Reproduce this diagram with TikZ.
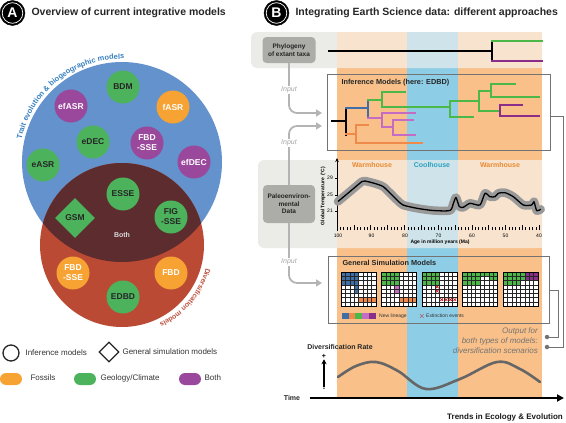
\documentclass[tikz,border=0pt]{standalone}
\usepackage{fontspec}
\setmainfont{Liberation Sans}
\usetikzlibrary{shapes.geometric,arrows.meta}

\definecolor{traitblue}{RGB}{99,146,205}
\definecolor{traittext}{RGB}{56,128,192}
\definecolor{divred}{RGB}{186,74,52}
\definecolor{divtext}{RGB}{190,80,60}
\definecolor{overlap}{RGB}{92,44,46}
\definecolor{geogreen}{RGB}{77,178,92}
\definecolor{fossorange}{RGB}{246,163,52}
\definecolor{bothpurple}{RGB}{153,72,156}
\definecolor{bandorange}{RGB}{249,192,137}
\definecolor{bandblue}{RGB}{141,206,230}
\definecolor{paleorange}{RGB}{248,228,206}
\definecolor{paleblue}{RGB}{207,228,234}
\definecolor{rowgray}{RGB}{235,235,232}
\definecolor{nodegray}{RGB}{172,172,168}
\definecolor{inputgray}{RGB}{180,180,180}
\definecolor{treeblue}{RGB}{63,111,166}
\definecolor{treegreen}{RGB}{76,184,72}
\definecolor{treepink}{RGB}{196,108,196}
\definecolor{treepurple}{RGB}{138,46,138}
\definecolor{treeorange}{RGB}{240,138,75}
\definecolor{warmtext}{RGB}{232,137,47}
\definecolor{cooltext}{RGB}{42,160,192}

\tikzset{
	model/.style={circle, minimum size=33pt, inner sep=0pt, align=center, font=\bfseries\fontsize{8.5}{10}\selectfont},
	geo/.style={model, fill=geogreen, text=black!85},
	foss/.style={model, fill=fossorange, text=white},
	purp/.style={model, fill=bothpurple, text=white},
	badge/.style={circle, fill=black, draw=black, text=white, minimum size=25pt, inner sep=0pt, font=\bfseries\fontsize{14}{14}\selectfont},
	paneltitle/.style={anchor=west, font=\bfseries\fontsize{10.5}{12}\selectfont, text=black!85},
	legendtext/.style={anchor=west, font=\fontsize{8}{9}\selectfont, text=black!80},
	databox/.style={fill=nodegray, rounded corners=4pt, align=center, text=black!85, font=\bfseries\fontsize{6.5}{7.5}\selectfont},
	modelbox/.style={draw=black!55, line width=0.8pt, anchor=north west, inner sep=0pt},
	boxtitle/.style={anchor=west, font=\bfseries\fontsize{7.3}{8}\selectfont, text=black!85},
	inputlabel/.style={fill=white, inner sep=1pt, font=\itshape\fontsize{7}{8}\selectfont, text=black!35},
	inputarrow/.style={draw=inputgray, line width=1.8pt, rounded corners=8pt, -{Triangle[length=6pt,width=7pt]}},
	treeline/.style={line width=2pt, line cap=rect},
	smalltext/.style={font=\fontsize{5}{6}\selectfont, inner sep=1pt},
	outdot/.style={circle, fill=black!55, minimum size=4.5pt, inner sep=0pt},
}

\newlength{\chw}
\newcommand{\traitfont}{\normalfont\bfseries\fontsize{7.5}{8}\selectfont}
\newcommand{\divfont}{\normalfont\bfseries\fontsize{7}{8}\selectfont}
\newcommand{\cellblock}[5]{\fill[#5] (#1-1,#3-1) rectangle (#2,#4);}
\newcommand{\cellx}[2]{\draw[red!80!black, line width=0.6pt] (#1-0.8,#2-0.8) -- (#1-0.2,#2-0.2) (#1-0.8,#2-0.2) -- (#1-0.2,#2-0.8);}

% letter angles along an arc, measured outside the picture
% #1 name, #2 font, #3 radius, #4 middle angle, #5 letters
\newcommand{\buildarc}[5]{%
	\xdef\arctotal{0}%
	\foreach \ch in {#5} {\settowidth{\chw}{#2\ch}\pgfmathsetmacro\arctmp{\arctotal+\chw}\xdef\arctotal{\arctmp}}%
	\pgfmathsetmacro\arctmp{#4+(\arctotal/2)/#3*180/pi}\xdef\curang{\arctmp}%
	\gdef\arclist{}%
	\foreach \ch in {#5} {%
		\settowidth{\chw}{#2\ch}%
		\pgfmathsetmacro\angmid{\curang-(\chw/2)/#3*180/pi}%
		\pgfmathsetmacro\angnext{\curang-\chw/#3*180/pi}%
		\ifx\arclist\empty
			\xdef\arclist{\unexpanded\expandafter{\ch}/\angmid}%
		\else
			\xdef\arclist{\unexpanded\expandafter{\arclist},\unexpanded\expandafter{\ch}/\angmid}%
		\fi
		\xdef\curang{\angnext}}%
	\global\expandafter\let\csname arc#1\endcsname\arclist}

\begin{document}
\buildarc{trait}{\traitfont}{103}{128}{T,r,a,i,t,~,e,v,o,l,u,t,i,o,n,~,\&,~,b,i,o,g,e,o,g,r,a,p,h,i,c,~,m,o,d,e,l,s}
\buildarc{div}{\divfont}{87}{-40}{D,i,v,e,r,s,i,f,i,c,a,t,i,o,n,~,m,o,d,e,l,s}
\begin{tikzpicture}[x=1pt,y=-1pt]
	\useasboundingbox (0,0) rectangle (566,423);

	%%% panel A
	\node[badge] (badgeA) at (12.5,13) {A};
	\draw[white, line width=0.7pt] (badgeA.center) circle[radius=10.3];
	\node[paneltitle] (titleA) at (28,13) {Overview of current integrative models};

	\fill[traitblue] (122,162) circle[radius=100];
	\fill[divred] (122,245) circle[radius=82];
	\begin{scope}
		\clip (122,162) circle[radius=100];
		\fill[overlap] (122,245) circle[radius=82];
	\end{scope}

	% curved labels
	\begin{scope}[y=1pt]
		\foreach \ch/\ang in \arctrait
			\node[text=traittext, font=\traitfont, inner sep=0pt, anchor=base, rotate=\ang-90] at ([shift={(\ang:103)}]122,-162) {\ch};
		\foreach \ch/\ang in \arcdiv
			\node[text=divtext, font=\divfont, inner sep=0pt, anchor=base, rotate=\ang-90] at ([shift={(\ang:87)}]122,-245) {\ch};
	\end{scope}

	\node[geo] (bdm) at (123,87) {BDM};
	\node[purp] (efasr) at (71,106) {efASR};
	\node[foss] (fasr) at (173,107) {fASR};
	\node[geo] (edec) at (93,142) {eDEC};
	\node[purp] (fbdsse) at (147,143) {FBD\\-SSE};
	\node[purp] (efdec) at (194,162) {efDEC};
	\node[geo] (easr) at (43,165) {eASR};
	\node[geo] (esse) at (123,194) {ESSE};
	\node[diamond, fill=geogreen, text=black!85, minimum size=40pt, inner sep=0pt, font=\bfseries\fontsize{8.5}{10}\selectfont] (gsm) at (75,218) {GSM};
	\node[geo] (figsse) at (171,217) {FIG\\-SSE};
	\node[text=white!85!black, font=\bfseries\fontsize{7}{8}\selectfont] (bothlabel) at (122,235) {Both};
	\node[foss] (ffbdsse) at (73,273) {FBD\\-SSE};
	\node[foss] (fbd) at (171,273) {FBD};
	\node[geo] (edbd) at (123,297) {EDBD};

	% legend
	\node[circle, draw=black!85, line width=1.3pt, minimum size=16pt, inner sep=0pt] (leginf) at (11,353) {};
	\node[legendtext] (leginftext) at (22,353) {Inference models};
	\node[diamond, draw=black!85, line width=1.3pt, minimum size=20pt, inner sep=0pt] (legsim) at (109,352) {};
	\node[legendtext] (legsimtext) at (119,352) {General simulation models};
	\node[rounded corners=6pt, fill=fossorange, minimum width=22pt, minimum height=12pt] (legfoss) at (11,379) {};
	\node[legendtext] (legfosstext) at (27,378) {Fossils};
	\node[rounded corners=6pt, fill=geogreen, minimum width=22pt, minimum height=12pt] (leggeo) at (85,379) {};
	\node[legendtext] (leggeotext) at (97,378) {Geology/Climate};
	\node[rounded corners=6pt, fill=bothpurple, minimum width=22pt, minimum height=12pt] (legboth) at (190,379) {};
	\node[legendtext] (legbothtext) at (201,378) {Both};

	%%% panel B
	\node[badge] (badgeB) at (276.5,13) {B};
	\draw[white, line width=0.7pt] (badgeB.center) circle[radius=10.3];
	\node[paneltitle] (titleB) at (292,13) {Integrating Earth Science data: different approaches};

	% time bands
	\fill[bandorange] (337,32) rectangle (542,398);
	\fill[bandblue] (407,32) rectangle (458,398);
	\fill[rowgray, rounded corners=6pt] (251,32) rectangle (542,68);
	\fill[paleorange] (337,32) rectangle (542,68);
	\fill[paleblue] (407,32) rectangle (458,68);
	\fill[rowgray, rounded corners=6pt] (258,160) rectangle (542,248);
	\fill[paleorange] (337,160) rectangle (542,248);
	\fill[paleblue] (407,160) rectangle (458,248);

	% phylogeny row
	\node[databox, minimum width=53pt, minimum height=26pt] (phylo) at (289,50) {Phylogeny\\of extant taxa};
	\draw[line width=1.6pt] (328,51) -- (492,51);
	\draw[treeline, black] (492,41) -- (492,61);
	\draw[treeline, treegreen] (492,41) -- (542,41);
	\draw[treeline, treepurple] (492,61) -- (542,61);

	% inference models
	\node[modelbox, minimum width=223pt, minimum height=76pt] (infbox) at (327,74) {};
	\node[boxtitle] (inftitle) at (338,83) {Inference Models (here: EDBD)};
	\draw[treeline, black] (332,121) -- (346,121) (346,108) -- (346,135);
	\draw[treeline, treeblue] (346,108) -- (368,108) (368,100) -- (368,118);
	\draw[treeline, treegreen] (368,100) -- (382,100) (382,92) -- (382,107) (382,92) -- (405,92)
		(382,107) -- (450,107) (450,101) -- (450,117) (450,117) -- (473,117)
		(450,101) -- (479,101) (479,91) -- (479,111) (479,91) -- (491,91)
		(491,84) -- (491,97) (491,84) -- (515,84) (491,97) -- (539,97) (479,111) -- (500,111);
	\draw[treeline, treepurple] (500,105) -- (500,116) (500,105) -- (522,105) (500,116) -- (539,116);
	\draw[treeline, treepink] (368,118) -- (382,118) (382,113) -- (382,127) (382,113) -- (415,113)
		(382,127) -- (393,127) (393,120) -- (393,135) (393,120) -- (413,120) (393,135) -- (415,135);
	\draw[treeline, treeorange] (346,134) -- (356,134) (356,125) -- (356,143) (356,125) -- (368,125) (356,143) -- (422,143);

	% palaeo data
	\node[databox, minimum width=52pt, minimum height=38pt] (paleo) at (289,204) {Paleoenviron-\\mental\\Data};
	\node[font=\bfseries\fontsize{7}{8}\selectfont, text=warmtext] (warm1) at (372,165) {Warmhouse};
	\node[font=\bfseries\fontsize{7}{8}\selectfont, text=cooltext] (cool) at (432,165) {Coolhouse};
	\node[font=\bfseries\fontsize{7}{8}\selectfont, text=warmtext] (warm2) at (500,165) {Warmhouse};
	\draw[line width=1pt, -{Stealth[length=4pt,width=3.5pt]}] (337,231) -- (337,158);
	\foreach \tv/\yy in {29/178, 25/195, 21/211} {
		\draw[line width=0.4pt] (335,\yy) -- (337,\yy);
		\node[smalltext, anchor=east] at (334,\yy) {\tv};
	}
	\node[smalltext, font=\bfseries\fontsize{5}{6}\selectfont, rotate=90] (ylabel) at (323,196) {Global Temperature\, (°C)};
	\foreach \a in {0,...,60}
		\draw[line width=0.5pt] ({337+\a*3.37},230) -- ({337+\a*3.37},227);
	\foreach \a in {0,5,...,60}
		\draw[line width=0.5pt] ({337+\a*3.37},230) -- ({337+\a*3.37},225);
	\foreach \a/\lab in {0/100,10/90,20/80,30/70,40/60,50/50,60/40}
		\node[smalltext] at ({338+\a*3.35},236) {\lab};
	\node[smalltext, font=\bfseries\fontsize{5}{6}\selectfont] (xlabel) at (440,242) {Age in million years (Ma)};
	\draw[black!40, line width=8.5pt, line join=round, line cap=round] plot[smooth, tension=0.4] coordinates {
		(338,201.5) (350,191.5) (362,181.5) (365,181) (375,183.5) (383,186.5) (390,193) (397,200)
		(403,205) (417,208.3) (433,210.5) (450,210.5) (453.5,203) (456,197.5) (459.3,206.5) (463.3,207.3)
		(470,203.3) (480,205) (485,193.3) (490,196.7) (495,196.7) (498.3,193.3) (505,192.7) (513.3,196.7)
		(523.3,205) (531.7,205) (534,201.7) (536.7,210.7) (540.7,209.3)};
	\draw[black, line width=1.3pt, line join=round] plot[smooth, tension=0.4] coordinates {
		(338,201.5) (350,191.5) (362,181.5) (365,181) (375,183.5) (383,186.5) (390,193) (397,200)
		(403,205) (417,208.3) (433,210.5) (450,210.5) (453.5,203) (456,197.5) (459.3,206.5) (463.3,207.3)
		(470,203.3) (480,205) (485,193.3) (490,196.7) (495,196.7) (498.3,193.3) (505,192.7) (513.3,196.7)
		(523.3,205) (531.7,205) (534,201.7) (536.7,210.7) (540.7,209.3)};

	% general simulation models
	\node[modelbox, minimum width=221pt, minimum height=67pt] (simbox) at (328,256) {};
	\node[boxtitle] (simtitle) at (339,263) {General Simulation Models};
	\begin{scope}[shift={(341,272)}, x=4.375pt, y=-4.25pt]
		\fill[white] (0,0) rectangle (8,8);
		\cellblock{1}{4}{1}{3}{treeblue}
		\cellblock{4}{4}{4}{5}{treeblue}
		\cellblock{5}{8}{7}{7}{treeorange}
	\end{scope}
	\begin{scope}[shift={(381.5,272)}, x=4.375pt, y=-4.25pt]
		\fill[white] (0,0) rectangle (8,8);
		\cellblock{1}{4}{1}{3}{treegreen}
		\cellblock{4}{4}{4}{5}{treepink}
		\cellblock{5}{8}{7}{7}{treeorange}
	\end{scope}
	\begin{scope}[shift={(422,272)}, x=4.375pt, y=-4.25pt]
		\fill[white] (0,0) rectangle (8,8);
		\cellblock{1}{4}{1}{3}{treegreen}
		\cellx{4}{4} \cellx{4}{5}
		\cellx{5}{7} \cellx{6}{7} \cellx{7}{7} \cellx{8}{7}
	\end{scope}
	\begin{scope}[shift={(462.5,272)}, x=4.375pt, y=-4.25pt]
		\fill[white] (0,0) rectangle (8,8);
		\cellblock{1}{8}{1}{1}{treegreen}
		\cellblock{1}{4}{2}{3}{treegreen}
		\cellblock{7}{8}{2}{2}{treegreen}
	\end{scope}
	\begin{scope}[shift={(503,272)}, x=4.375pt, y=-4.25pt]
		\fill[white] (0,0) rectangle (8,8);
		\cellblock{1}{5}{1}{2}{treegreen}
		\cellblock{1}{4}{3}{3}{treegreen}
		\cellblock{6}{8}{1}{2}{treepurple}
	\end{scope}
	\foreach \gx in {341,381.5,422,462.5,503} {
		\begin{scope}[shift={(\gx,272)}, x=4.375pt, y=-4.25pt]
			\foreach \k in {0,...,8} {
				\draw[black!85, line width=0.35pt] (\k,0) -- (\k,8);
				\draw[black!85, line width=0.35pt] (0,\k) -- (8,\k);
			}
			\draw[black, line width=0.7pt] (0,0) rectangle (8,8);
		\end{scope}
	}
	\foreach \col [count=\i] in {treeblue,treeorange,treegreen,treepink,treepurple}
		\fill[\col] ({335+\i*6.8},312.5) rectangle ++(6.8,6.8);
	\node[smalltext, anchor=west, text=black!80] (newlin) at (378,316) {New lineage};
	\node[text=red!80!black, font=\bfseries\fontsize{8}{8}\selectfont, inner sep=0pt] (xmark) at (422,316) {$\times$};
	\node[smalltext, anchor=west, text=black!80] (extinct) at (425,316) {Extinction events};

	% inputs
	\coordinate (in1) at (322,113);
	\coordinate (in2) at (322,126);
	\coordinate (in3) at (322,283);
	\draw[inputarrow] (phylo.south) |- (in1);
	\draw[inputarrow] (paleo.north) |- (in2);
	\draw[inputarrow] (paleo.south) |- (in3);
	\node[inputlabel] (input1) at (289,90) {Input};
	\node[inputlabel] (input2) at (289,143) {Input};
	\node[inputlabel] (input3) at (289,262) {Input};

	% outputs
	\node[outdot] (out1) at (547,337) {};
	\node[outdot] (out2) at (547,347) {};
	\draw[black!55, line width=0.8pt] (simbox.east) -- ++(9,0) |- (out1);
	\draw[black!55, line width=0.8pt] ([yshift=-4pt]infbox.east) -- ++(13,0) |- (out2);
	\node[anchor=north east, align=right, inner sep=0pt, font=\itshape\fontsize{8}{10}\selectfont, text=black!55] (outtext) at (538,328) {Output for\\both types of models:\\diversification scenarios};

	% diversification rate
	\node[font=\bfseries\fontsize{7}{8}\selectfont, text=black!85] (divrate) at (340,347) {Diversification Rate};
	\node[font=\bfseries\fontsize{7}{8}\selectfont, inner sep=1pt] (rplus) at (324,356) {+};
	\node[font=\bfseries\fontsize{7}{8}\selectfont, inner sep=1pt] (rminus) at (324,389) {-};
	\draw[line width=1.2pt, -{Stealth[length=5pt,width=5pt]}] (rminus.north) -- (rplus.south);
	\draw[black!60, line width=2.6pt, line cap=round] plot[smooth, tension=0.6] coordinates {
		(338,377) (356,366) (376,362) (398,371) (426,389) (460,379) (497,362) (520,369) (540,382)};

	% time axis
	\node[font=\bfseries\fontsize{7}{8}\selectfont, text=black!85] (time) at (292,398) {Time};
	\coordinate (tend) at (564,398);
	\draw[line width=1.8pt, -{Triangle[length=7pt,width=7pt]}] ([xshift=6pt]time.east) -- (tend);

	\node[anchor=east, inner sep=0pt, font=\bfseries\fontsize{8}{9}\selectfont, text=black!90] (journal) at (563,417) {Trends in Ecology \& Evolution};
\end{tikzpicture}
\end{document}
